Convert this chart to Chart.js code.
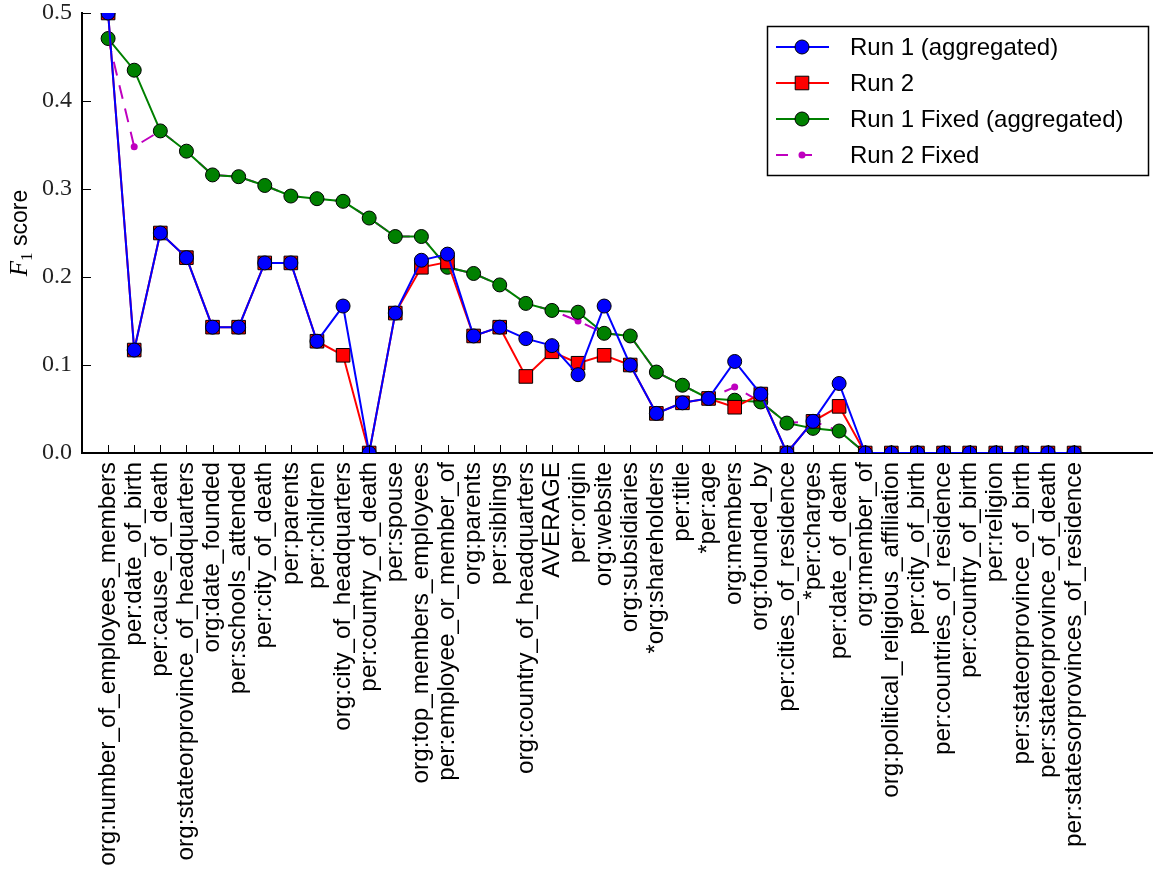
<!DOCTYPE html>
<html>
<head>
<meta charset="utf-8">
<script src="https://cdn.jsdelivr.net/npm/chart.js@4.4.0/dist/chart.umd.min.js"></script>
<style>
  html, body { margin: 0; padding: 0; background: #fff; }
  #wrap { width: 1163px; height: 872px; }
</style>
</head>
<body>
<div id="wrap"><canvas id="chart" width="1163" height="872"></canvas></div>
<script>
// Slot types, ordered by the fixed run's score
const categories = [
  'org:number_of_employees_members', 'per:date_of_birth', 'per:cause_of_death',
  'org:stateorprovince_of_headquarters', 'org:date_founded', 'per:schools_attended',
  'per:city_of_death', 'per:parents', 'per:children', 'org:city_of_headquarters',
  'per:country_of_death', 'per:spouse', 'org:top_members_employees',
  'per:employee_or_member_of', 'org:parents', 'per:siblings', 'org:country_of_headquarters',
  'AVERAGE', 'per:origin', 'org:website', 'org:subsidiaries', '*org:shareholders',
  'per:title', '*per:age', 'org:members', 'org:founded_by', 'per:cities_of_residence',
  '*per:charges', 'per:date_of_death', 'org:member_of', 'org:political_religious_affiliation',
  'per:city_of_birth', 'per:countries_of_residence', 'per:country_of_birth', 'per:religion',
  'per:stateorprovince_of_birth', 'per:stateorprovince_of_death', 'per:statesorprovinces_of_residence'
];

const run1 = [
  0.500, 0.117, 0.250, 0.222, 0.143, 0.143, 0.216, 0.216, 0.127, 0.167,
  0.000, 0.159, 0.219, 0.226, 0.133, 0.143, 0.130, 0.122, 0.089, 0.167,
  0.100, 0.045, 0.057, 0.062, 0.104, 0.067, 0.000, 0.036, 0.079, 0.000,
  0.000, 0.000, 0.000, 0.000, 0.000, 0.000, 0.000, 0.000
];

const run2 = [
  0.500, 0.117, 0.250, 0.222, 0.143, 0.143, 0.216, 0.216, 0.127, 0.111,
  0.000, 0.159, 0.211, 0.217, 0.133, 0.143, 0.087, 0.115, 0.102, 0.111,
  0.100, 0.045, 0.057, 0.062, 0.052, 0.067, 0.000, 0.036, 0.053, 0.000,
  0.000, 0.000, 0.000, 0.000, 0.000, 0.000, 0.000, 0.000
];

const run1Fixed = [
  0.471, 0.435, 0.366, 0.343, 0.316, 0.314, 0.304, 0.292, 0.289, 0.286,
  0.267, 0.246, 0.246, 0.211, 0.204, 0.191, 0.170, 0.162, 0.160, 0.136,
  0.133, 0.092, 0.077, 0.062, 0.060, 0.058, 0.034, 0.028, 0.025, 0.000,
  0.000, 0.000, 0.000, 0.000, 0.000, 0.000, 0.000, 0.000
];

const run2Fixed = [
  0.471, 0.348, 0.366, 0.343, 0.316, 0.314, 0.304, 0.292, 0.289, 0.286,
  0.267, 0.246, 0.246, 0.211, 0.204, 0.191, 0.170, 0.162, 0.150, 0.136,
  0.133, 0.092, 0.077, 0.062, 0.075, 0.058, 0.034, 0.036, 0.025, 0.000,
  0.000, 0.000, 0.000, 0.000, 0.000, 0.000, 0.000, 0.000
];

const yTicks = [0.0, 0.1, 0.2, 0.3, 0.4, 0.5];
const seriesNames = ['Run 1 (aggregated)', 'Run 2', 'Run 1 Fixed (aggregated)', 'Run 2 Fixed'];

const toPoints = arr => arr.map((v, i) => ({ x: i, y: v }));

const styles = [
  { color: '#0000ff', pointStyle: 'circle', radius: 7, edge: '#000000', edgeWidth: 1, dash: [] },
  { color: '#ff0000', pointStyle: 'rect', radius: 9.6, edge: '#000000', edgeWidth: 1, dash: [] },
  { color: '#008000', pointStyle: 'circle', radius: 7, edge: '#000000', edgeWidth: 1, dash: [] },
  { color: '#bf00bf', pointStyle: 'circle', radius: 3.5, edge: '#bf00bf', edgeWidth: 0, dash: [14, 10] }
];

const seriesValues = [run1, run2, run1Fixed, run2Fixed];

const datasets = seriesValues.map((vals, k) => ({
  label: seriesNames[k],
  data: toPoints(vals),
  borderColor: styles[k].color,
  backgroundColor: styles[k].color,
  borderWidth: 2,
  borderDash: styles[k].dash,
  pointStyle: styles[k].pointStyle,
  pointRadius: styles[k].radius,
  pointBackgroundColor: styles[k].color,
  pointBorderColor: styles[k].edge,
  pointBorderWidth: styles[k].edgeWidth,
  tension: 0,
  fill: false
}));

// Inward tick marks on both axes
const tickMarks = {
  id: 'tickMarks',
  afterDatasetsDraw(chart) {
    const { ctx, chartArea, scales } = chart;
    ctx.save();
    ctx.strokeStyle = '#000';
    ctx.lineWidth = 1;
    ctx.beginPath();
    categories.forEach((_, i) => {
      const px = Math.round(scales.x.getPixelForValue(i)) + 0.5;
      ctx.moveTo(px, chartArea.bottom);
      ctx.lineTo(px, chartArea.bottom - 8);
    });
    yTicks.forEach(v => {
      const py = Math.round(scales.y.getPixelForValue(v)) + 0.5;
      ctx.moveTo(chartArea.left, py);
      ctx.lineTo(chartArea.left + 9, py);
    });
    ctx.stroke();
    ctx.restore();
  }
};

// Rotated y-axis title: italic F with subscript 1, then "score"
const yTitle = {
  id: 'yTitle',
  afterDraw(chart) {
    const { ctx, chartArea } = chart;
    const fF = 'italic 25px "Liberation Serif"';
    const fSub = '17px "Liberation Serif"';
    const fWord = '23px "Liberation Sans"';
    ctx.save();
    ctx.fillStyle = '#000';
    ctx.textBaseline = 'alphabetic';
    ctx.font = fF; const wF = ctx.measureText('F').width;
    ctx.font = fSub; const wS = ctx.measureText('1').width;
    ctx.font = fWord; const wW = ctx.measureText(' score').width;
    const total = wF + wS + wW;
    ctx.translate(27, (chartArea.top + chartArea.bottom) / 2);
    ctx.rotate(-Math.PI / 2);
    let x = -total / 2;
    ctx.font = fF; ctx.fillText('F', x, 0); x += wF;
    ctx.font = fSub; ctx.fillText('1', x, 5); x += wS;
    ctx.font = fWord; ctx.fillText(' score', x, 0);
    ctx.restore();
  }
};

// Boxed legend with line-and-marker samples
const boxLegend = {
  id: 'boxLegend',
  afterDraw(chart) {
    const { ctx } = chart;
    const box = { x: 767.5, y: 26.5, w: 381, h: 149 };
    ctx.save();
    ctx.fillStyle = '#fff';
    ctx.fillRect(box.x, box.y, box.w, box.h);
    ctx.strokeStyle = '#000';
    ctx.lineWidth = 1.5;
    ctx.strokeRect(box.x, box.y, box.w, box.h);
    const rowY = [47, 83, 119, 155];
    seriesNames.forEach((name, k) => {
      const st = styles[k];
      const y = rowY[k];
      ctx.strokeStyle = st.color;
      ctx.lineWidth = 2;
      ctx.setLineDash(k === 3 ? [12, 12] : []);
      ctx.beginPath();
      ctx.moveTo(776, y);
      ctx.lineTo(k === 3 ? 817 : 829, y);
      ctx.stroke();
      ctx.setLineDash([]);
      ctx.fillStyle = st.color;
      ctx.strokeStyle = st.edge;
      ctx.lineWidth = st.edgeWidth;
      Chart.helpers.drawPoint(ctx, {
        pointStyle: st.pointStyle, radius: st.radius, rotation: 0, borderWidth: st.edgeWidth
      }, 802, y);
      ctx.fillStyle = '#000';
      ctx.font = '24px "Liberation Sans"';
      ctx.textBaseline = 'middle';
      ctx.textAlign = 'left';
      ctx.fillText(name, 850, y + 1);
    });
    ctx.restore();
  }
};

new Chart(document.getElementById('chart'), {
  type: 'line',
  data: { datasets },
  options: {
    responsive: false,
    animation: false,
    devicePixelRatio: 1,
    layout: { padding: { top: 13, right: 0, bottom: 0, left: 0 } },
    plugins: { legend: { display: false }, tooltip: { enabled: false } },
    scales: {
      x: {
        type: 'linear',
        min: -1,
        max: 40,
        grid: { display: false, drawTicks: false },
        border: { display: true, color: '#000', width: 2 },
        afterBuildTicks: s => { s.ticks = categories.map((_, i) => ({ value: i })); },
        afterFit: s => {
          s.height = 872 - 453;
          s.paddingLeft = 0;
          s.paddingRight = 0;
        },
        ticks: {
          autoSkip: false,
          minRotation: 90,
          maxRotation: 90,
          padding: 9,
          color: '#000',
          font: { family: 'Liberation Sans', size: 24.3 },
          callback: v => categories[v]
        }
      },
      y: {
        min: 0,
        max: 0.5,
        grid: { display: false, drawTicks: false },
        border: { display: true, color: '#000', width: 2 },
        afterBuildTicks: s => { s.ticks = yTicks.map(v => ({ value: v })); },
        afterFit: s => {
          s.width = 82;
          s.paddingTop = 0;
          s.paddingBottom = 0;
        },
        ticks: {
          padding: 10,
          color: '#222',
          font: { family: 'Liberation Serif', size: 24 },
          callback: v => Number(v).toFixed(1)
        }
      }
    }
  },
  plugins: [tickMarks, yTitle, boxLegend]
});
</script>
</body>
</html>
